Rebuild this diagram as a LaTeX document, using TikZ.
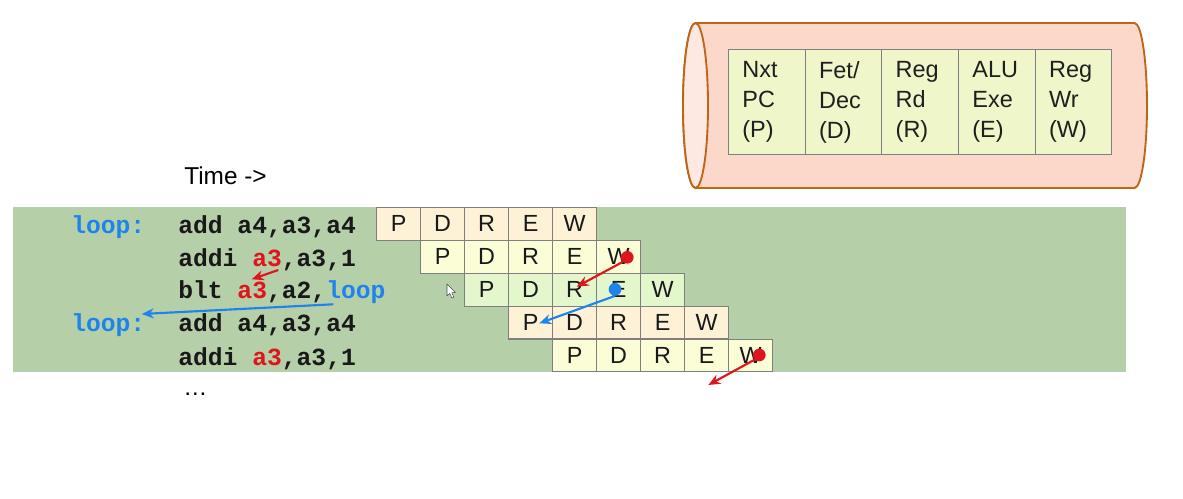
\documentclass[tikz,border=0pt]{standalone}
\usepackage{fontspec}
\setmainfont{Liberation Sans}
\newfontfamily\codefont{Liberation Mono}
\usetikzlibrary{arrows.meta}
\definecolor{band}{HTML}{B5D0A9}
\definecolor{cream}{HTML}{FDF2D6}
\definecolor{lyel}{HTML}{FAFDD6}
\definecolor{lgrn}{HTML}{E4F7CC}
\definecolor{cylfill}{HTML}{FBD8CA}
\definecolor{cylface}{HTML}{FDE9E1}
\definecolor{cylline}{HTML}{C06418}
\definecolor{tabfill}{HTML}{EFF6C9}
\definecolor{myblue}{HTML}{1E84EC}
\definecolor{myred}{HTML}{E0141B}
\definecolor{boxline}{HTML}{7F7F7F}
\tikzset{
  stagebox/.style={draw=boxline, line width=0.8pt, minimum width=33pt, minimum height=24.6pt,
    inner sep=0pt, anchor=north west, font=\fontsize{17.5}{18}\selectfont, text=black!90},
  cell/.style={draw=boxline, line width=0.8pt, fill=tabfill, minimum width=57.5pt, minimum height=78.5pt,
    inner xsep=10.4pt, inner ysep=0pt, text width=36.7pt, align=left, anchor=north west,
    font=\fontsize{17.6}{22.5}\selectfont, text=black!88},
  code/.style={anchor=base west, inner sep=0pt, font=\codefont\bfseries\fontsize{18.5}{20}\selectfont, text=black!90},
  lbl/.style={code, text=myblue},
  redarrow/.style={draw=myred, line width=1.6pt, -{Stealth[length=9pt,width=7.5pt]}},
  bluearrow/.style={draw=myblue, line width=1.6pt, -{Stealth[length=9pt,width=7.5pt]}},
  dot/.style={circle, inner sep=0pt, minimum size=9.5pt},
}
\begin{document}
\begin{tikzpicture}[x=0.75pt,y=0.75pt]
\useasboundingbox (0,0) rectangle (1183,-499);
\fill[white] (0,0) rectangle (1183,-499);
% green band
\fill[band] (13,-207) rectangle (1126,-372);
% cylinder
\draw[cylline, line width=1.4pt, fill=cylfill]
  (695.5,-23) -- (1134.5,-23)
  arc[start angle=90, end angle=-90, x radius=12.5, y radius=82.5]
  -- (695.5,-188)
  arc[start angle=270, end angle=90, x radius=12.5, y radius=82.5] -- cycle;
\draw[cylline, line width=1.4pt, fill=cylface] (695.5,-105.5) ellipse [x radius=12.5, y radius=82.5];
% stage table
\node[cell] (s1) at (728,-49.3) {Nxt\\PC\\(P)};
\node[cell] (s2) at (804.7,-49.3) {Fet/\\Dec\\(D)};
\node[cell] (s3) at (881.3,-49.3) {Reg\\Rd\\(R)};
\node[cell] (s4) at (958,-49.3) {ALU\\Exe\\(E)};
\node[cell] (s5) at (1034.7,-49.3) {Reg\\Wr\\(W)};
% Time label
\node[anchor=base west, inner sep=0pt, font=\fontsize{18.3}{20}\selectfont] (time) at (184,-185) {Time ->};
% pipeline boxes
\foreach \r/\col in {1/cream,2/lyel,3/lgrn,4/cream,5/lyel}{
  \foreach \s [count=\c] in {P,D,R,E,W}{
    \node[stagebox, fill=\col] (b\r\c) at ({376+44*(\r-1)+44*(\c-1)}, {-207-32.9*(\r-1)}) {\s};
  }
}
% code
\node[lbl] (l1) at (71,-234) {loop:};
\node[code] (c1) at (178,-234) {add a4,a3,a4};
\node[code] (c2) at (178,-266.5) {addi \textcolor{myred}{a3},a3,1};
\node[code] (c3) at (178,-299) {blt \textcolor{myred}{a3},a2,\textcolor{myblue}{loop}};
\node[lbl] (l2) at (71,-332) {loop:};
\node[code] (c4) at (178,-332) {add a4,a3,a4};
\node[code] (c5) at (178,-365) {addi \textcolor{myred}{a3},a3,1};
\node[anchor=base west, inner sep=0pt, font=\fontsize{18}{20}\selectfont] (dots) at (183,-396) {…};
% dots and arrows
\node[dot, fill=myred] (d1) at (627.3,-257.3) {};
\node[dot, fill=myblue] (d2) at (615,-289.3) {};
\node[dot, fill=myred] (d3) at (759.3,-355) {};
\coordinate (a1s) at (278.3,-270);
\coordinate (a1e) at (251.7,-279.3);
\coordinate (a2s) at (333.3,-304.3);
\coordinate (a2e) at (141.7,-314);
\coordinate (a3e) at (576.7,-286.7);
\coordinate (a4e) at (539.3,-323.3);
\coordinate (a5e) at (708.3,-385);
\draw[redarrow] (a1s) -- (a1e);
\draw[bluearrow] (a2s) -- (a2e);
\draw[redarrow] (d1.south west) -- (a3e);
\draw[bluearrow] (d2.south) -- (a4e);
\draw[redarrow] (d3.south west) -- (a5e);
% mouse cursor
\draw[black!70, fill=white, line width=0.4pt, line join=round]
  (447,-284) -- (447,-296) -- (449.8,-293.4) -- (451.8,-298) -- (453.8,-297.2) -- (451.8,-292.6) -- (455.5,-292.6) -- cycle;
\end{tikzpicture}
\end{document}
